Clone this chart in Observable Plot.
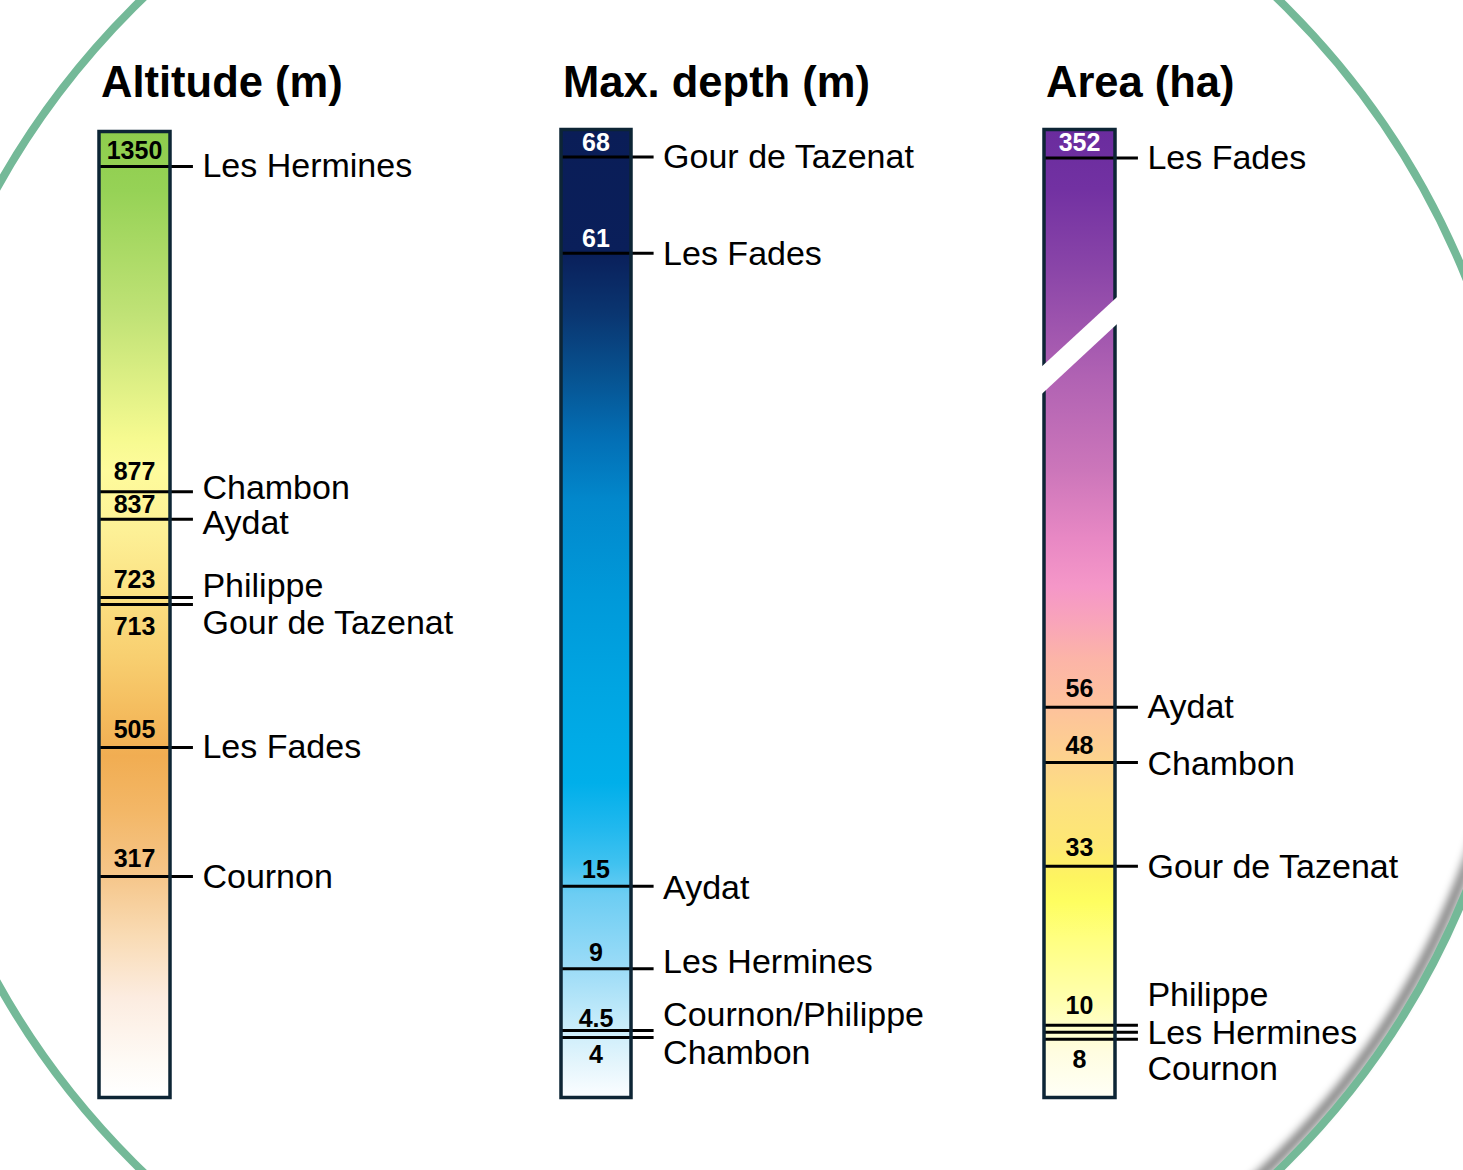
<!DOCTYPE html>
<html>
<head>
<meta charset="utf-8">
<script src="https://cdn.jsdelivr.net/npm/d3@7"></script>
<script src="https://cdn.jsdelivr.net/npm/@observablehq/plot@0.6"></script>
<style>
  html, body { margin: 0; padding: 0; background: #ffffff; }
  #stage { position: relative; width: 1463px; height: 1170px; overflow: hidden; background: #ffffff;
           font-family: "Liberation Sans", Arial, sans-serif; }
  #stage > div { position: absolute; top: 0; }
</style>
</head>
<body>
<div id="stage"></div>
<script>
// ---------------- DATA ----------------
const altitudeLakes  = ["Les Hermines", "Chambon", "Aydat", "Philippe", "Gour de Tazenat", "Les Fades", "Cournon"];
const altitudeValues = [1350, 877, 837, 723, 713, 505, 317];
const altitudeLabels = ["1350", "877", "837", "723", "713", "505", "317"];

const depthLakes  = ["Gour de Tazenat", "Les Fades", "Aydat", "Les Hermines", "Cournon/Philippe", "Chambon"];
const depthValues = [68, 61, 15, 9, 4.5, 4];
const depthLabels = ["68", "61", "15", "9", "4.5", "4"];

const areaLakes  = ["Les Fades", "Aydat", "Chambon", "Gour de Tazenat", "Philippe", "Les Hermines", "Cournon"];
const areaValues = [352, 56, 48, 33, 10, 9, 8];
const areaLabels = ["352", "56", "48", "33", "10", "", "8"];

const titles = ["Altitude (m)", "Max. depth (m)", "Area (ha)"];

// ---------------- LAYOUT / STYLE ----------------
const FONT = "'Liberation Sans', Arial, sans-serif";
const H = 1170;
const BAR_BOTTOM = 1097;
const TITLE_BASELINE = 96;

// gradient stops: [value on the column's axis, colour]
const altitudeStops = [
  [1400, "#8ecd4d"], [1315, "#96d256"], [1135, "#c0e276"], [1000, "#e8f48a"], [954, "#f6fa90"],
  [909, "#fefb9c"], [818, "#fdf096"], [727, "#fbe082"], [637, "#f8cf70"], [547, "#f4ba5c"],
  [493, "#f1ad52"], [412, "#f3b767"], [322, "#f5c588"], [231, "#f9dbb4"], [141, "#fcece0"],
  [49, "#fefaf5"], [0, "#ffffff"]
];
const depthStops = [
  [70, "#0a1d57"], [61.1, "#0a1f5a"], [56.7, "#0a3570"], [52.1, "#075290"], [47.5, "#036fb5"],
  [43, "#0288cc"], [36.2, "#0099d9"], [29.4, "#00a5e2"], [22.5, "#00afea"], [19.3, "#20b8ee"],
  [16.6, "#40c2f0"], [14.4, "#6ccdf3"], [8.9, "#9ddcf7"], [5.2, "#c5ebfa"], [2.1, "#e4f5fc"],
  [0, "#f8fcff"]
];
const areaStops = [
  [368, "#6a2c9e"], [335, "#7231a2"], [290, "#8a45a8"], [229.7, "#b062b3"], [177, "#cc76ba"],
  [139, "#e888c4"], [112, "#f597c8"], [90, "#f9a6b8"], [72.3, "#fcb4a8"], [56, "#fdc29c"],
  [49.6, "#fdd090"], [42.5, "#fde080"], [36, "#fde874"], [31.5, "#fdf460"], [27.9, "#fefe60"],
  [22.6, "#ffff80"], [13.4, "#ffffb0"], [6.2, "#fffde0"], [0, "#fffff5"]
];

// label layout: pixel nudges of the lake names; baseline offset of the value (null = no value shown)
const altitudeNameDy  = [0, -4, 3.5, -11, 19, 0, 1];
const altitudeValueDy = [-8, -12, -6, -10, 31, -9, -10];
const depthNameDy  = [0, 1, 2, -7, -15, 16];
const depthValueDy = [-6, -6, -8, -8, -4, 26];
const areaNameDy  = [0, 0, 2, 1, -30, 1, 30];
const areaValueDy = [-7, -10, -9, -10, -11, null, 29];

// axis break on the area column (axis units, at the left and right edge of the bar)
const areaBreak = [
  {x: -0.04, y1: 219, y2: 234.5},
  {x: 1.04, y1: 259, y2: 274}
];

// ---------------- BACKGROUND RING ----------------
const stage = d3.select("#stage");
{
  const bg = stage.append("div").style("left", "0px").style("width", "1463px").style("height", H + "px")
    .append("svg").attr("width", 1463).attr("height", H).style("display", "block");
  const defs = bg.append("defs");
  defs.append("filter").attr("id", "ringBlur").attr("x", "-10%").attr("y", "-10%").attr("width", "120%").attr("height", "120%")
    .append("feGaussianBlur").attr("stdDeviation", 4);
  const sg = defs.append("linearGradient").attr("id", "ringShadow").attr("gradientUnits", "userSpaceOnUse")
    .attr("x1", 900).attr("y1", 400).attr("x2", 1300).attr("y2", 1000);
  sg.append("stop").attr("offset", 0.5).attr("stop-color", "#000").attr("stop-opacity", 0);
  sg.append("stop").attr("offset", 1).attr("stop-color", "#000").attr("stop-opacity", 0.5);
  bg.append("circle").attr("cx", 710).attr("cy", 585).attr("r", 807).attr("fill", "none")
    .attr("stroke", "url(#ringShadow)").attr("stroke-width", 10).attr("filter", "url(#ringBlur)");
  bg.append("circle").attr("cx", 710).attr("cy", 585).attr("r", 816).attr("fill", "none")
    .attr("stroke", "#74b998").attr("stroke-width", 8);
}

// ---------------- COLUMNS ----------------
function column(cfg) {
  const {id, title, names, values, labels, stops, yDomain, yRange, left, width,
         marginLeft, marginRight, marginTop, nameDy, valueDy, breakBand} = cfg;
  const rows = names.map((n, i) => ({name: n, value: values[i], label: labels[i], ndy: nameDy[i], vdy: valueDy[i]}));
  const colorAt = d3.scaleLinear().domain(stops.map(s => s[0])).range(stops.map(s => s[1])).clamp(true);
  const textColor = d => d3.lab(colorAt(d.value)).l < 50 ? "#ffffff" : "#000000";
  const gradId = "grad-" + id;

  const marks = [
    Plot.frame({fill: `url(#${gradId})`, stroke: "none"}),
    Plot.ruleY(rows, {y: "value", x1: 0, x2: 1.33, stroke: "#000000", strokeWidth: 3}),
    Plot.frame({stroke: "#0d2535", strokeWidth: 3.5})
  ];
  if (breakBand) marks.push(Plot.areaY(breakBand, {x: "x", y1: "y1", y2: "y2", fill: "#ffffff", curve: "linear"}));
  marks.push(
    ...rows.filter(r => r.vdy != null && r.label).map(r => Plot.text([r], {
      x: 0.5, y: "value", text: "label", fill: textColor(r), fontSize: 25, fontWeight: "bold",
      textAnchor: "middle", lineAnchor: "bottom", dy: r.vdy
    })),
    ...rows.map(r => Plot.text([r], {
      x: 1.33, y: "value", text: "name", fill: "#000000", fontSize: 34,
      textAnchor: "start", lineAnchor: "middle", dx: 9, dy: r.ndy
    })),
    Plot.text([title], {
      frameAnchor: "top-left", text: d => d, fill: "#000000", fontSize: 43.5, fontWeight: "bold",
      textAnchor: "start", lineAnchor: "bottom", dx: 2, dy: TITLE_BASELINE - marginTop
    })
  );

  const svg = Plot.plot({
    width, height: H,
    marginLeft, marginRight, marginTop, marginBottom: H - BAR_BOTTOM,
    x: {type: "linear", domain: [0, 1], axis: null},
    y: {type: "linear", domain: yDomain, range: yRange, axis: null},
    style: {background: "none", fontFamily: FONT, overflow: "visible"},
    marks
  });

  // vertical gradient placed through the column's y scale
  const y = svg.scale("y");
  const y0 = y.apply(stops[0][0]), y1 = y.apply(stops[stops.length - 1][0]);
  const defs = d3.select(svg).insert("defs", ":first-child");
  const lg = defs.append("linearGradient").attr("id", gradId).attr("gradientUnits", "userSpaceOnUse")
    .attr("x1", 0).attr("x2", 0).attr("y1", y0).attr("y2", y1);
  for (const [v, c] of stops) lg.append("stop").attr("offset", (y.apply(v) - y0) / (y1 - y0)).attr("stop-color", c);

  stage.append("div").style("left", left + "px").style("width", width + "px").node().appendChild(svg);
}

column({
  id: "alt", title: titles[0], names: altitudeLakes, values: altitudeValues, labels: altitudeLabels,
  stops: altitudeStops, yDomain: [0, 1400], yRange: [1094, 131.7],
  left: 0, width: 470, marginLeft: 98.5, marginRight: 300.5, marginTop: 131,
  nameDy: altitudeNameDy, valueDy: altitudeValueDy
});
column({
  id: "depth", title: titles[1], names: depthLakes, values: depthValues, labels: depthLabels,
  stops: depthStops, yDomain: [0, 70], yRange: [1092, 129],
  left: 470, width: 480, marginLeft: 90.5, marginRight: 319.5, marginTop: 129,
  nameDy: depthNameDy, valueDy: depthValueDy
});
column({
  id: "area", title: titles[2], names: areaLakes, values: areaValues, labels: areaLabels,
  stops: areaStops, yDomain: [0, 60, 368], yRange: [1094, 679, 129],
  left: 950, width: 513, marginLeft: 93.5, marginRight: 348.5, marginTop: 129,
  nameDy: areaNameDy, valueDy: areaValueDy, breakBand: areaBreak
});
</script>
</body>
</html>
